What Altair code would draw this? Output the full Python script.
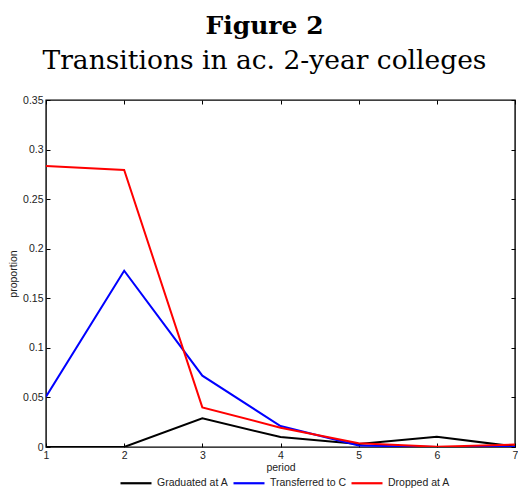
import altair as alt
import pandas as pd

periods = [1, 2, 3, 4, 5, 6, 7]
graduated = [0.0, 0.0, 0.029, 0.010, 0.003, 0.0103, 0.0005]
transferred = [0.0507, 0.1778, 0.0719, 0.0212, 0.0015, 0.0, 0.0]
dropped = [0.2834, 0.2794, 0.040, 0.0195, 0.0037, 0.0003, 0.0025]
series_names = ["Graduated at A", "Transferred to C", "Dropped at A"]
series_colors = ["#000000", "#0000ff", "#ff0000"]

rows = []
for name, vals in zip(series_names, [graduated, transferred, dropped]):
    for p, v in zip(periods, vals):
        rows.append({"period": p, "proportion": v, "series": name})
df = pd.DataFrame(rows)

x_scale = alt.Scale(domain=[1, 7], nice=False, zero=False)
y_scale = alt.Scale(domain=[0, 0.35], nice=False)
y_ticks = [0, 0.05, 0.1, 0.15, 0.2, 0.25, 0.3, 0.35]

lab_font = "Liberation Sans"
fs = 10.5

lines = alt.Chart(df).mark_line(strokeWidth=2, clip=True).encode(
    x=alt.X("period:Q", scale=x_scale,
            axis=alt.Axis(values=periods, format="d", orient="bottom", offset=-4,
                          domain=False, tickSize=4, tickColor="#000", grid=False,
                          labelPadding=3, labelFont=lab_font, labelFontSize=fs,
                          labelColor="#222", title="period", titleFont=lab_font,
                          titleFontSize=fs, titleFontWeight="normal", titleColor="#222",
                          titlePadding=2, labelFlush=False)),
    y=alt.Y("proportion:Q", scale=y_scale,
            axis=alt.Axis(values=y_ticks, format="~g", orient="left", offset=-4,
                          domain=False, tickSize=4, tickColor="#000", grid=False,
                          labelPadding=3, labelFont=lab_font, labelFontSize=fs,
                          labelColor="#222", title="proportion", titleFont=lab_font,
                          titleFontSize=fs, titleFontWeight="normal", titleColor="#222",
                          titlePadding=4, labelFlush=False)),
    color=alt.Color("series:N",
                    scale=alt.Scale(domain=series_names, range=series_colors),
                    legend=alt.Legend(orient="none", legendX=73, legendY=366,
                                      direction="horizontal", title=None,
                                      symbolType="stroke", symbolSize=961,
                                      symbolStrokeWidth=2.2, labelFont=lab_font,
                                      labelFontSize=fs, labelColor="#222",
                                      labelOffset=4, columnPadding=0, padding=0)),
)

frame = alt.Chart(df).mark_line(opacity=0).encode(
    x=alt.X("period:Q", scale=x_scale,
            axis=alt.Axis(values=periods, orient="top", offset=-4, domain=False,
                          tickSize=4, tickColor="#000", grid=False, labels=False,
                          title=None)),
    y=alt.Y("proportion:Q", scale=y_scale,
            axis=alt.Axis(values=y_ticks, orient="right", offset=-4, domain=False,
                          tickSize=4, tickColor="#000", grid=False, labels=False,
                          title=None)),
    detail="series:N",
)

chart = alt.layer(lines, frame).resolve_axis(x="independent", y="independent").properties(
    width=469,
    height=347,
    autosize=alt.AutoSizeParams(type="none"),
    padding={"left": 38, "top": 92, "right": 3, "bottom": 41},
    title=alt.TitleParams(
        text="Figure 2",
        subtitle="Transitions in ac. 2-year colleges",
        font="DejaVu Serif",
        fontSize=25,
        fontWeight="bold",
        color="#000",
        subtitleFont="DejaVu Serif",
        subtitleFontSize=26.5,
        subtitleColor="#000",
        subtitlePadding=9,
        anchor="middle",
        offset=21,
        dx=-16,
    ),
).configure_view(stroke="#000", strokeWidth=1.4)

chart.save("out.html", embed_options={"renderer": "svg", "actions": False})
